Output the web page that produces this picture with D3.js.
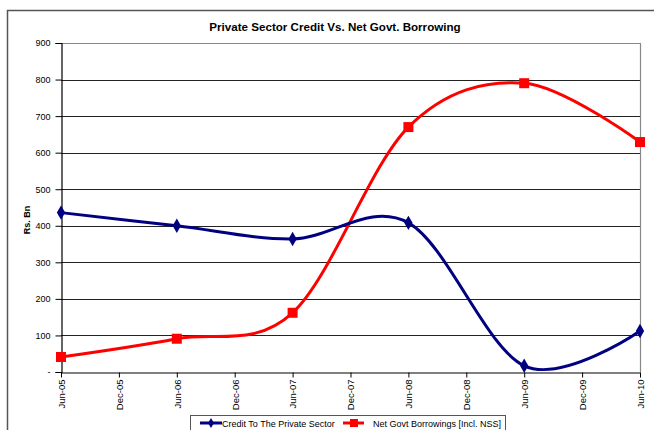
<!DOCTYPE html>
<html><head><meta charset="utf-8">
<script src="https://cdn.jsdelivr.net/npm/d3@7"></script>
<style>body{margin:0;background:#fff;} svg{display:block;font-family:"Liberation Sans",Arial,sans-serif;}</style>
</head><body>
<svg id="c" width="654" height="430"></svg>
<script>
const tickLabels = ["Jun-05","Dec-05","Jun-06","Dec-06","Jun-07","Dec-07","Jun-08","Dec-08","Jun-09","Dec-09","Jun-10"];
const categories = ["Jun-05","Jun-06","Jun-07","Jun-08","Jun-09","Jun-10"];
const creditPrivate = [436, 400, 364, 408, 17, 112];
const netGovt = [41, 91, 162, 670, 790, 629];
const yTicks = [0,100,200,300,400,500,600,700,800,900];

const svg = d3.select("#c");
const m = {l:61, t:43, r:640, b:372};
const x = d3.scalePoint().domain(tickLabels).range([m.l, m.r]);
const y = d3.scaleLinear().domain([0,900]).range([m.b, m.t]);

// outer border
svg.append("rect").attr("x",7.5).attr("y",10.5).attr("width",700).attr("height",500)
  .attr("fill","none").attr("stroke","#555").attr("stroke-width",1.5);

// title
svg.append("text").attr("x",335).attr("y",31).attr("text-anchor","middle")
  .attr("font-size",11.6).attr("font-weight","bold").text("Private Sector Credit Vs. Net Govt. Borrowing");

// gridlines
svg.append("g").selectAll("line").data(yTicks.filter(d=>d>0 && d<900)).join("line")
  .attr("x1",m.l).attr("x2",m.r).attr("y1",d=>Math.round(y(d))+0.5).attr("y2",d=>Math.round(y(d))+0.5)
  .attr("stroke","#222").attr("stroke-width",1.2);
// plot frame top/right
svg.append("path").attr("d",`M${m.l},${m.t+0.5}H${m.r+0.5}V${m.b}`).attr("fill","none").attr("stroke","#888").attr("stroke-width",1.2);

// y axis
const ya = svg.append("g").attr("transform",`translate(${m.l+0.5},0)`)
  .call(d3.axisLeft(y).tickValues(yTicks).tickSize(6).tickPadding(5).tickFormat(d=>d===0?"-":d));
ya.select(".domain").attr("stroke","#000").attr("stroke-width",1.2);
ya.selectAll(".tick line").attr("stroke","#000");
ya.selectAll("text").attr("font-size",9).attr("font-family","Liberation Sans, Arial").attr("fill","#000");

// x axis
const xa = svg.append("g").attr("transform",`translate(0,${m.b+0.5})`)
  .call(d3.axisBottom(x).tickSize(5).tickSizeOuter(0));
xa.select(".domain").attr("stroke","#000").attr("stroke-width",1.2);
xa.selectAll(".tick line").attr("stroke","#000");
xa.selectAll("text").attr("font-size",9.5).attr("font-family","Liberation Sans, Arial").attr("fill","#000")
  .attr("transform","rotate(-90)").attr("text-anchor","end").attr("x",-7).attr("y",0).attr("dy","0.35em");

// y label
svg.append("text").attr("transform","translate(30,220) rotate(-90)").attr("text-anchor","middle")
  .attr("font-size",9).attr("font-weight","bold").text("Rs. Bn");

const line = d3.line().x((d,i)=>x(categories[i])).y(d=>y(d)).curve(d3.curveCatmullRom.alpha(0));

svg.append("path").datum(netGovt).attr("d",line).attr("fill","none").attr("stroke","#ff0000").attr("stroke-width",3);
svg.append("path").datum(creditPrivate).attr("d",line).attr("fill","none").attr("stroke","#000080").attr("stroke-width",3);

svg.append("g").selectAll("rect").data(netGovt).join("rect")
  .attr("x",(d,i)=>x(categories[i])-5).attr("y",d=>y(d)-5).attr("width",10).attr("height",10).attr("fill","#ff0000");
const diamond = d3.symbol().type(d3.symbolDiamond).size(60);
svg.append("g").selectAll("path").data(creditPrivate).join("path")
  .attr("transform",(d,i)=>`translate(${x(categories[i])},${y(d)})`).attr("d",diamond).attr("fill","#000080");

// legend
const lg = svg.append("g");
lg.append("rect").attr("x",190.5).attr("y",415.5).attr("width",315).attr("height",30).attr("fill","#fff").attr("stroke","#555");
lg.append("line").attr("x1",200).attr("x2",222).attr("y1",423).attr("y2",423).attr("stroke","#000080").attr("stroke-width",3);
lg.append("path").attr("transform","translate(211,423)").attr("d",d3.symbol().type(d3.symbolDiamond).size(30)).attr("fill","#000080");
lg.append("text").attr("x",222).attr("y",426.5).attr("font-size",9).text("Credit To The Private Sector");
lg.append("line").attr("x1",343).attr("x2",364).attr("y1",423).attr("y2",423).attr("stroke","#ff0000").attr("stroke-width",3);
lg.append("rect").attr("x",350).attr("y",419).attr("width",8).attr("height",8).attr("fill","#ff0000");
lg.append("text").attr("x",373).attr("y",426.5).attr("font-size",9).text("Net Govt Borrowings [Incl. NSS]");
</script>
</body></html>
